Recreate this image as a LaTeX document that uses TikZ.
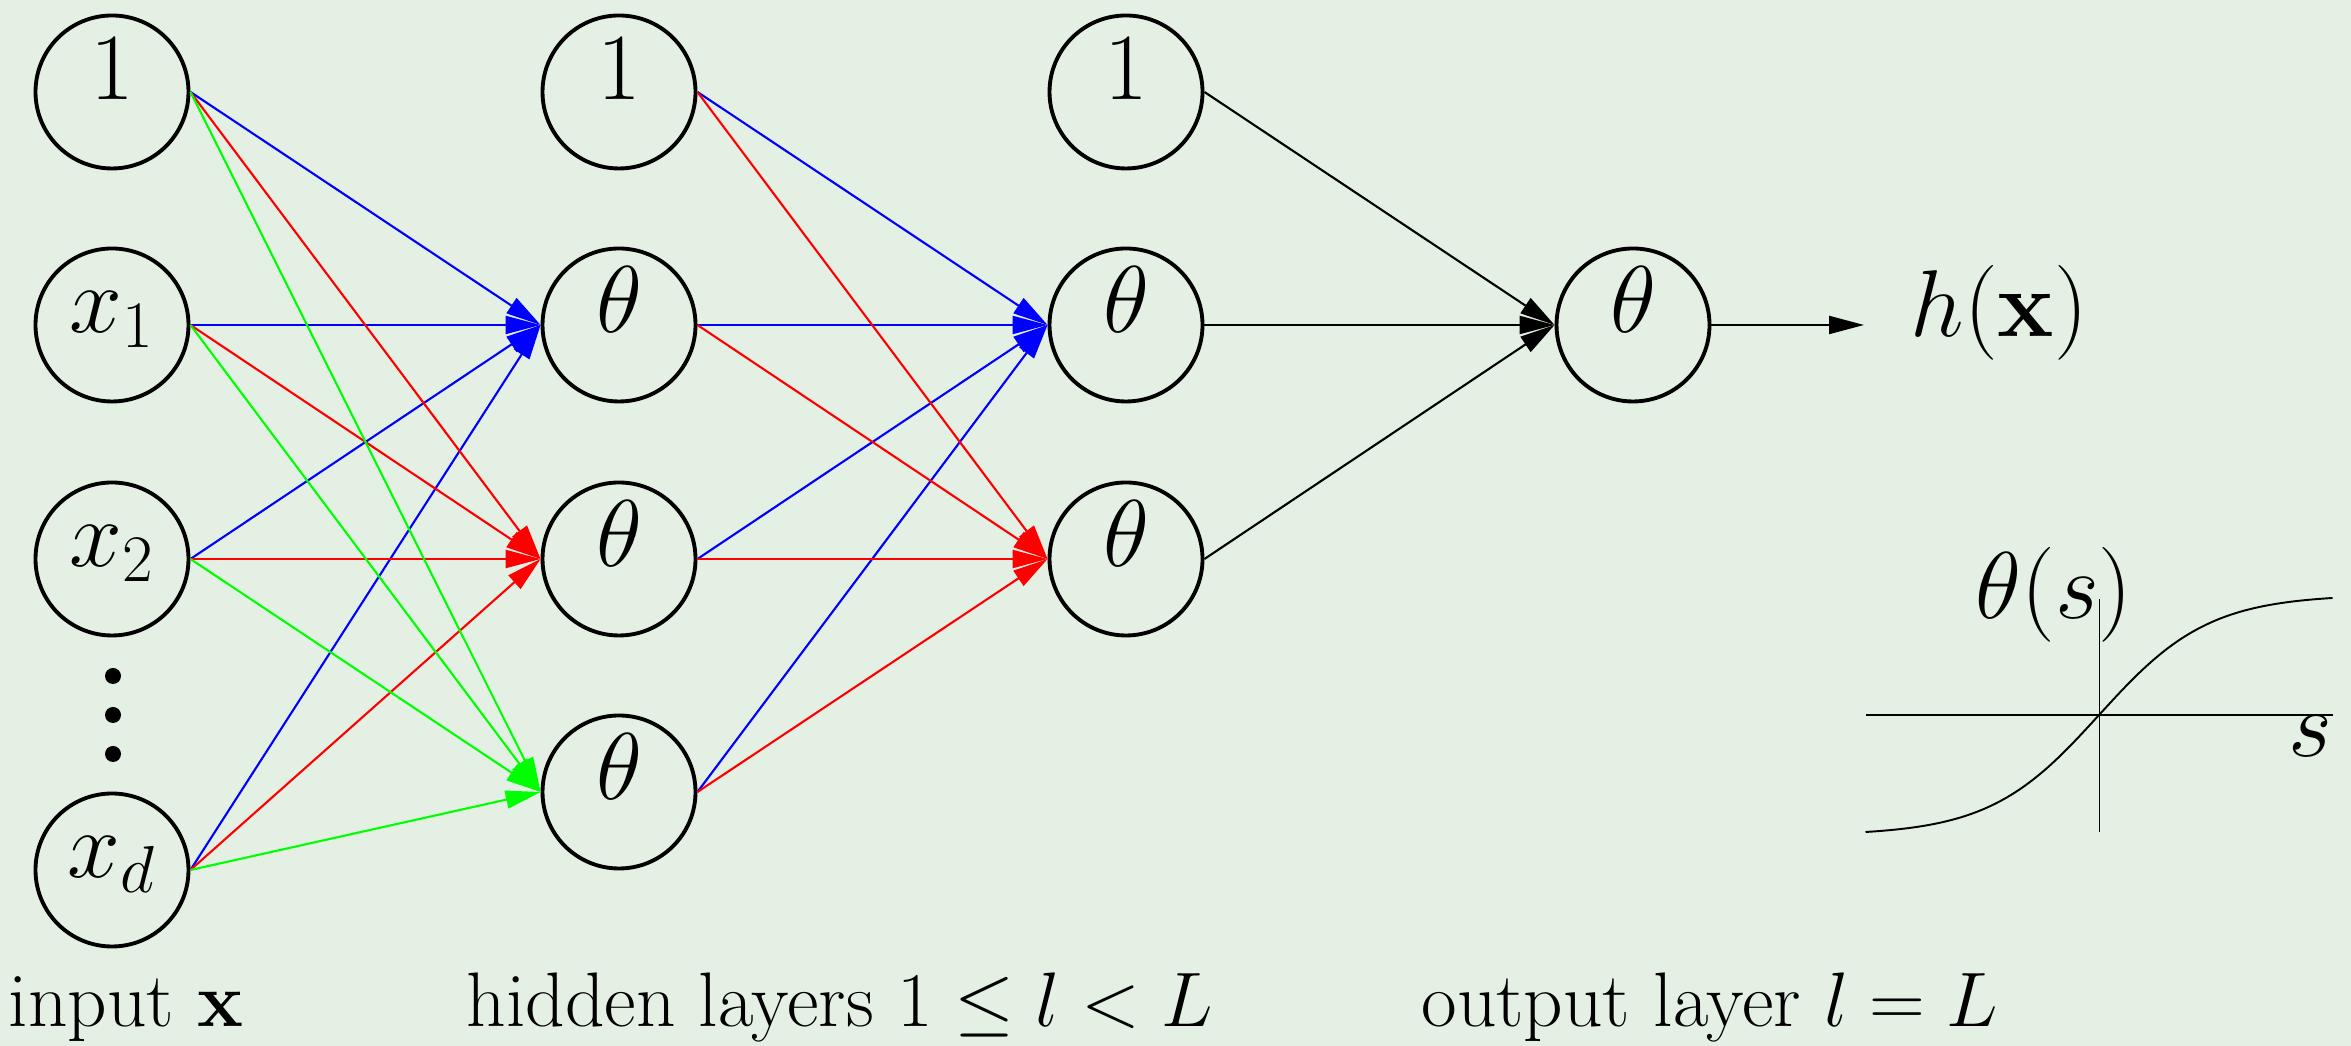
\RequirePackage{fix-cm}
\documentclass[tikz,border=0pt]{standalone}
\usepackage{amsmath}
\usepackage{tikz}
\usetikzlibrary{arrows.meta, positioning}
\definecolor{bgmint}{RGB}{228,240,228}

\begin{document}
\begin{tikzpicture}[
    neuron/.style={circle, draw, line width=1.1pt, minimum size=1.53cm, inner sep=0pt, text height=0.4cm, text depth=0.24cm, font=\fontsize{27}{32}\selectfont},
    arrow/.style={-{Triangle[length=0.35cm, width=0.18cm]}, line width=0.6pt},
    caption/.style={anchor=base, inner sep=0pt, font=\fontsize{22}{26}\selectfont},
    mathlabel/.style={inner sep=0pt, font=\fontsize{27}{32}\selectfont}
]

\fill[bgmint] (0,0) rectangle (23.51,10.46);
\useasboundingbox (0,0) rectangle (23.51,10.46);

% Input layer
\node[neuron] (b1) at (1.12, 9.54) {$1$};
\node[neuron] (x1) at (1.12, 7.21) {$x_1$};
\node[neuron] (x2) at (1.12, 4.87) {$x_2$};
\node[neuron] (xd) at (1.12, 1.76) {$x_d$};
\fill (1.13, 3.70) circle (0.08) (1.13, 3.31) circle (0.08) (1.13, 2.92) circle (0.08);

% Hidden layer (first)
\node[neuron] (b2) at (6.19, 9.54) {$1$};
\node[neuron] (t21) at (6.19, 7.21) {$\theta$};
\node[neuron] (t22) at (6.19, 4.87) {$\theta$};
\node[neuron] (t23) at (6.19, 2.54) {$\theta$};

% Hidden layer (second)
\node[neuron] (b3) at (11.26, 9.54) {$1$};
\node[neuron] (t31) at (11.26, 7.21) {$\theta$};
\node[neuron] (t32) at (11.26, 4.87) {$\theta$};

% Output layer
\node[neuron] (t4) at (16.33, 7.21) {$\theta$};
\coordinate (hend) at (18.64, 7.21);
\node[mathlabel, anchor=base west] (hx) at (19.10, 7.09) {$h(\mathbf{x})$};

% Weights into first hidden layer
\path[arrow, blue] (b1.east) edge (t21.west) (x1.east) edge (t21.west) (x2.east) edge (t21.west) (xd.east) edge (t21.west);
\path[arrow, red] (b1.east) edge (t22.west) (x1.east) edge (t22.west) (x2.east) edge (t22.west) (xd.east) edge (t22.west);
\path[arrow, green] (b1.east) edge (t23.west) (x1.east) edge (t23.west) (x2.east) edge (t23.west) (xd.east) edge (t23.west);

% Weights into second hidden layer
\path[arrow, blue] (b2.east) edge (t31.west) (t21.east) edge (t31.west) (t22.east) edge (t31.west) (t23.east) edge (t31.west);
\path[arrow, red] (b2.east) edge (t32.west) (t21.east) edge (t32.west) (t22.east) edge (t32.west) (t23.east) edge (t32.west);

% Weights into output
\path[arrow] (b3.east) edge (t4.west) (t31.east) edge (t4.west) (t32.east) edge (t4.west);
\draw[arrow] (t4.east) -- (hend);

% Sigmoid sketch
\draw[line width=0.3pt] (18.66, 3.31) -- (23.33, 3.31);
\draw[line width=0.3pt] (20.99, 2.14) -- (20.99, 4.47);
\draw[line width=0.55pt, domain=-2.123:2.123, samples=80, smooth] plot ({20.99 + 1.1*\x}, {3.31 + 1.204*tanh(\x)});
\node[mathlabel, anchor=base] (ths) at (20.54, 4.27) {$\theta(s)$};
\node[mathlabel, anchor=north east] (sl) at (23.33, 3.31) {$s$};

% Layer captions
\node[caption] (lin) at (1.26, 0.19) {input $\mathbf{x}$};
\node[caption] (lhid) at (8.40, 0.19) {hidden layers $1\le l<L$};
\node[caption] (lout) at (17.10, 0.19) {output layer $l=L$};

\end{tikzpicture}
\end{document}
